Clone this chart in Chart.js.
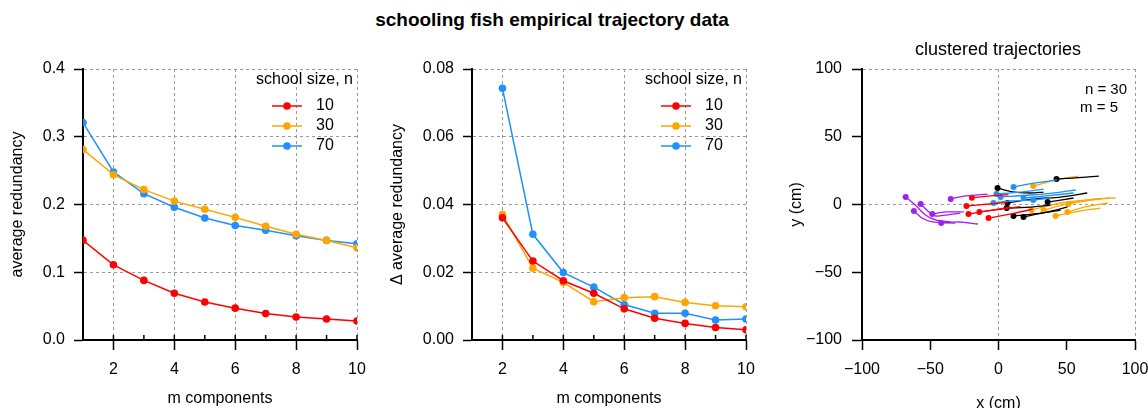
<!DOCTYPE html>
<html>
<head>
<meta charset="utf-8">
<script src="https://cdn.jsdelivr.net/npm/chart.js@4.4.1/dist/chart.umd.min.js"></script>
<style>
  body { margin: 0; background: #fff; font-family: "Liberation Sans", Arial, sans-serif; }
  #wrap { position: relative; width: 1148px; height: 408px; overflow: hidden; }
  canvas { position: absolute; top: 0; }
  .txt { position: absolute; white-space: nowrap; color: #000; }
</style>
</head>
<body>
<div id="wrap">
  <div class="txt" style="left:0;width:1104px;top:9px;text-align:center;font-weight:bold;font-size:19px;line-height:22px;">schooling fish empirical trajectory data</div>
  <canvas id="redund" width="380" height="408" style="left:0"></canvas>
  <canvas id="delta" width="390" height="408" style="left:380px"></canvas>
  <canvas id="traj" width="410" height="408" style="left:770px"></canvas>
  <div class="txt" style="left:898px;width:200px;top:38px;text-align:center;font-size:18px;line-height:22px;">clustered trajectories</div>
  <div class="txt" style="right:21px;top:80px;font-size:15px;line-height:18px;">n = 30</div>
  <div class="txt" style="right:30px;top:98px;font-size:15px;line-height:18px;">m = 5</div>
</div>
<script>
// school sizes and colours
const schoolSizes = ['10', '30', '70'];
const sizeColors = ['#FF0000', '#FFA500', '#1E90FF'];
const legendTitle = 'school size, n';

// average redundancy vs m components
const mComponents = [1, 2, 3, 4, 5, 6, 7, 8, 9, 10];
const redund10 = [0.147, 0.111, 0.088, 0.069, 0.056, 0.047, 0.039, 0.034, 0.031, 0.028];
const redund30 = [0.281, 0.244, 0.222, 0.205, 0.193, 0.181, 0.168, 0.156, 0.147, 0.136];
const redund70 = [0.321, 0.248, 0.216, 0.196, 0.180, 0.169, 0.162, 0.154, 0.147, 0.142];

// change in average redundancy
const deltaM = [2, 3, 4, 5, 6, 7, 8, 9, 10];
const delta10 = [0.0361, 0.0233, 0.0175, 0.0138, 0.0092, 0.0064, 0.0049, 0.0037, 0.0030];
const delta30 = [0.0371, 0.0212, 0.0170, 0.0113, 0.0125, 0.0128, 0.0111, 0.0101, 0.0098];
const delta70 = [0.0743, 0.0312, 0.0199, 0.0156, 0.0105, 0.0079, 0.0079, 0.0059, 0.0062];

const xTicksM = [2, 4, 6, 8, 10];
const innerTicksM = [2, 3, 4, 5, 6, 7, 8, 9, 10];

// clustered trajectories (cm), first point is the marked one
const trajPurple = [
  [[-68, 5.5], [-61, -0.4], [-53.5, -7.7], [-46, -11.4], [-35, -12.9]],
  [[-57, 0.4], [-51, -5.5], [-45.5, -8.5], [-28, -6.3]],
  [[-62, -4.8], [-56, -10], [-48.5, -12.9], [-31.5, -13.7]],
  [[-48.5, -7], [-39, -5.5], [-25.5, -5.5]],
  [[-42, -13.7], [-29, -12.9], [-15, -14.4]],
  [[-35, 4.1], [-24, 6.3], [-8, 7.7]]
];
const trajRed = [
  [[-19.5, 5], [-6, 6.3], [7.3, 7.3]],
  [[-23.5, -1.1], [-9, 0.2], [6.5, 1.5]],
  [[-22, -7], [-7, -4.5], [8.8, -2]],
  [[-14, -5.5], [1.5, -3.5], [16, -1.5]],
  [[-7.3, -10], [9, -7], [25, -3.5]]
];
const trajBlue = [
  [[11, 12.9], [27, 15.9], [43, 18.1]],
  [[-1.5, 7.7], [16, 9.2], [33, 11.4]],
  [[1.5, 5.5], [23.5, 7], [45.5, 9.2], [56.5, 10.7]],
  [[-3.7, 1.1], [9, 2.6], [25.5, 3.3]],
  [[18.3, 4.8], [34.5, 6.3], [55, 8.5]],
  [[25.5, 3.3], [38, 4.8]]
];
const trajBlack = [
  [[-0.7, 12.2], [9, 9.5], [23.5, 8.5], [33, 9.2]],
  [[42.5, 18.8], [56.5, 19.6], [73.5, 21]],
  [[6.6, 1.1], [25.5, 4.1], [45.5, 5.5], [65, 8.5]],
  [[6, -2.6], [25.5, -1.8], [38, -0.4]],
  [[11, -8.5], [31, -6.3], [45.5, -4.1]],
  [[18.3, -9.2], [36, -5.5], [50.5, -1.8]],
  [[36, 1.8], [55, 4.8]]
];
const trajOrange = [
  [[25.4, 13.7], [42.5, 18.1], [58.6, 21]],
  [[24.2, -4.1], [45.5, 1.1], [63.7, 3.3], [74.7, 4.1]],
  [[33, -4.1], [52.7, 1.1], [71, 4.1], [85.7, 4.8]],
  [[50.5, -5.5], [63.7, -1.8], [80, 1.1]],
  [[41.8, -8.5], [56.4, -5.5], [74.7, -2.6]],
  [[51.3, 0.4], [67.4, 3.3], [82, 4.8]]
];

const FONT = '"Liberation Sans", Arial, sans-serif';
const GRID = '#9a9a9a';
Chart.defaults.font.family = FONT;
Chart.defaults.font.size = 16;
Chart.defaults.color = '#000';

// legend drawn inside the plot, top right
const legendBox = {
  id: 'legendBox',
  afterDraw(chart, args, opts) {
    if (!opts.show) return;
    const ctx = chart.ctx;
    const a = chart.chartArea;
    ctx.save();
    ctx.font = '16px ' + FONT;
    ctx.fillStyle = '#000';
    ctx.textAlign = 'right';
    ctx.textBaseline = 'middle';
    ctx.fillText(legendTitle, a.right - 4, a.top + 11);
    chart.data.datasets.forEach((ds, i) => {
      const y = a.top + 37 + i * 20;
      ctx.strokeStyle = ds.borderColor;
      ctx.lineWidth = 1.5;
      ctx.beginPath();
      ctx.moveTo(a.right - 85, y);
      ctx.lineTo(a.right - 55, y);
      ctx.stroke();
      ctx.fillStyle = ds.borderColor;
      ctx.beginPath();
      ctx.arc(a.right - 70, y, 3.8, 0, Math.PI * 2);
      ctx.fill();
      ctx.fillStyle = '#000';
      ctx.textAlign = 'left';
      ctx.fillText(ds.label, a.right - 41, y);
    });
    ctx.restore();
  }
};

// short inward ticks on the x axis
const innerTicks = {
  id: 'innerTicks',
  afterDraw(chart, args, opts) {
    if (!opts.values) return;
    const ctx = chart.ctx;
    const sx = chart.scales.x;
    const y0 = chart.chartArea.bottom;
    ctx.save();
    ctx.strokeStyle = '#000';
    ctx.lineWidth = 1.5;
    opts.values.forEach(v => {
      const px = sx.getPixelForValue(v);
      ctx.beginPath();
      ctx.moveTo(px, y0);
      ctx.lineTo(px, y0 - 5);
      ctx.stroke();
    });
    ctx.restore();
  }
};

function lineSet(label, xs, ys, color) {
  return {
    label: label,
    data: xs.map((x, i) => ({ x: x, y: ys[i] })),
    borderColor: color,
    backgroundColor: color,
    borderWidth: 1.5,
    pointRadius: 3.8,
    pointBorderWidth: 0,
    pointHoverRadius: 3.8,
    tension: 0
  };
}

function mOptions(yMax, yStep, decimals, yTitle, yAxisWidth, titlePad, rightPad) {
  return {
    responsive: false,
    animation: false,
    layout: { padding: { top: 69, right: rightPad, left: 0, bottom: 0 } },
    scales: {
      x: {
        type: 'linear',
        min: 1,
        max: 10,
        afterBuildTicks: s => { s.ticks = xTicksM.map(v => ({ value: v })); },
        afterFit: s => { s.height = 68; },
        grid: { color: GRID, lineWidth: 1, tickColor: '#000', tickLength: 10, tickWidth: 1.5 },
        border: { color: '#000', width: 2, dash: [3, 3] },
        ticks: { padding: 10, maxRotation: 0, autoSkip: false },
        title: { display: true, text: 'm components', padding: { top: 0, bottom: 0 } }
      },
      y: {
        min: 0,
        max: yMax,
        ticks: { stepSize: yStep, padding: 9, callback: v => Number(v).toFixed(decimals) },
        afterFit: s => { s.width = yAxisWidth; },
        grid: { color: GRID, lineWidth: 1, tickColor: '#000', tickLength: 9, tickWidth: 1.5 },
        border: { color: '#000', width: 2, dash: [3, 3] },
        title: { display: true, text: yTitle, padding: { top: titlePad, bottom: 0 } }
      }
    },
    plugins: {
      legend: { display: false },
      tooltip: { enabled: false },
      legendBox: { show: true },
      innerTicks: { values: innerTicksM }
    }
  };
}

new Chart(document.getElementById('redund'), {
  type: 'line',
  data: {
    datasets: [
      lineSet(schoolSizes[0], mComponents, redund10, sizeColors[0]),
      lineSet(schoolSizes[1], mComponents, redund30, sizeColors[1]),
      lineSet(schoolSizes[2], mComponents, redund70, sizeColors[2])
    ]
  },
  options: mOptions(0.4, 0.1, 1, 'average redundancy', 83, 8, 23),
  plugins: [legendBox, innerTicks]
});

new Chart(document.getElementById('delta'), {
  type: 'line',
  data: {
    datasets: [
      lineSet(schoolSizes[0], deltaM, delta10, sizeColors[0]),
      lineSet(schoolSizes[1], deltaM, delta30, sizeColors[1]),
      lineSet(schoolSizes[2], deltaM, delta70, sizeColors[2])
    ]
  },
  options: mOptions(0.08, 0.02, 2, '\u0394 average redundancy', 92, 8, 24),
  plugins: [legendBox, innerTicks]
});

// trajectories panel
const clusters = [
  { traj: trajPurple, color: '#A020F0' },
  { traj: trajRed, color: '#FF0000' },
  { traj: trajBlue, color: '#1E90FF' },
  { traj: trajBlack, color: '#000000' },
  { traj: trajOrange, color: '#FFA500' }
];
const trajSets = [];
clusters.forEach(c => {
  c.traj.forEach(t => {
    trajSets.push({
      data: t.map(p => ({ x: p[0], y: p[1] })),
      showLine: true,
      borderColor: c.color,
      backgroundColor: c.color,
      borderWidth: 1.3,
      tension: 0.3,
      pointBorderWidth: 0,
      pointRadius: ctx => ctx.dataIndex === 0 ? 3 : 0,
      pointHoverRadius: 0
    });
  });
});

const minusFmt = v => String(v).replace('-', '\u2212');
const zeroGrid = ctx => (ctx.tick && (ctx.tick.value === 0 || ctx.tick.value === 100)) ? GRID : 'rgba(0,0,0,0)';

new Chart(document.getElementById('traj'), {
  type: 'scatter',
  data: { datasets: trajSets },
  options: {
    responsive: false,
    animation: false,
    layout: { padding: { top: 69, right: 45, left: 0, bottom: 0 } },
    scales: {
      x: {
        type: 'linear', min: -100, max: 100,
        ticks: { stepSize: 50, padding: 10, maxRotation: 0, autoSkip: false, callback: minusFmt },
        afterFit: s => { s.height = 68; },
        grid: { color: zeroGrid, lineWidth: 1, tickColor: '#000', tickLength: 10, tickWidth: 1.5 },
        border: { color: '#000', width: 2, dash: [3, 3] },
        title: { display: true, text: 'x (cm)', padding: { top: 0, bottom: -5 } }
      },
      y: {
        type: 'linear', min: -100, max: 100,
        ticks: { stepSize: 50, padding: 10, callback: minusFmt },
        afterFit: s => { s.width = 92; },
        grid: { color: zeroGrid, lineWidth: 1, tickColor: '#000', tickLength: 10, tickWidth: 1.5 },
        border: { color: '#000', width: 2, dash: [3, 3] },
        title: { display: true, text: 'y (cm)', padding: { top: 17, bottom: 0 } }
      }
    },
    plugins: { legend: { display: false }, tooltip: { enabled: false } }
  }
});
</script>
</body>
</html>
